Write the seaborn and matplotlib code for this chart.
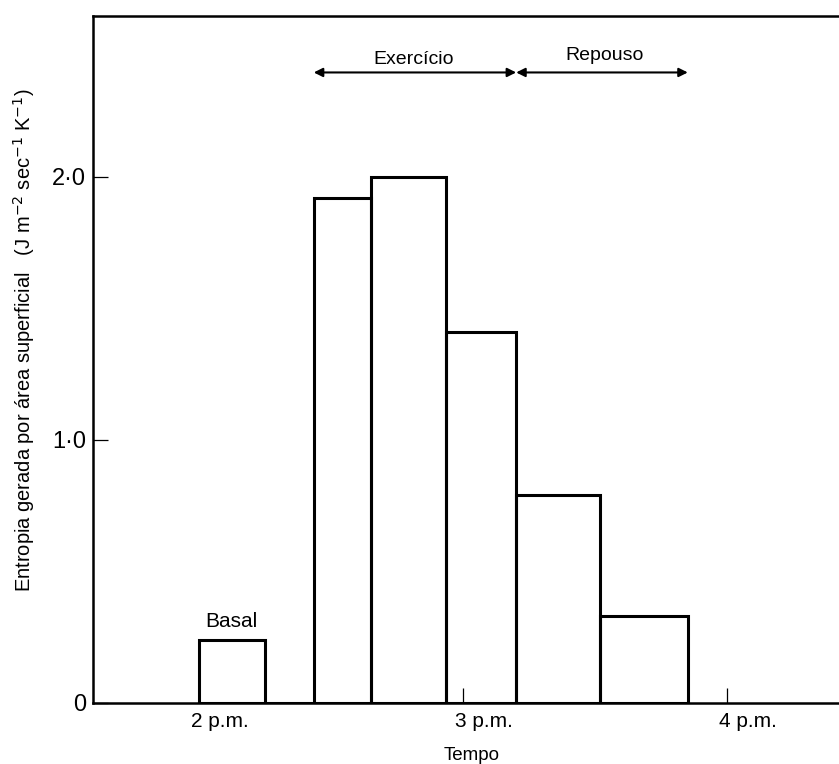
import numpy as np
import pandas as pd
import seaborn as sns
import matplotlib.pyplot as plt
from matplotlib.transforms import ScaledTranslation

# Intervals in minutes after 2 p.m. and entropy generated per surface area
start_min = [0, 26, 39, 56, 72, 91]
end_min = [15, 39, 56, 72, 91, 111]
entropy = [0.24, 1.92, 2.0, 1.41, 0.79, 0.33]

tick_min = [0, 60, 120]
tick_labels = ["2 p.m.", "3 p.m.", "4 p.m."]
ytick_vals = [0, 1, 2]
ytick_labels = ["0", "1·0", "2·0"]

phases = ["Exercício", "Repouso"]
phase_start = [26, 72]
phase_end = [72, 111]

sns.set_theme(style="white")
plt.rcParams["font.family"] = ["Liberation Sans", "DejaVu Sans"]
plt.rcParams["text.color"] = "black"
plt.rcParams["xtick.color"] = "black"
plt.rcParams["ytick.color"] = "black"

df = pd.DataFrame({
    "mid": [(a + b) / 2 for a, b in zip(start_min, end_min)],
    "value": entropy,
})
edges = sorted(set(start_min) | set(end_min))

fig = plt.figure(figsize=(8.39, 7.64), dpi=100)
ax = fig.add_axes([0.1112, 0.0802, 0.889, 0.8993])

sns.histplot(data=df, x="mid", weights="value", bins=edges, fill=False,
             element="bars", color="black", linewidth=2.2, ax=ax)

ax.set_xlim(-24.1, 145.4)
ax.set_ylim(0, 2.613)

for s in ["left", "top", "bottom"]:
    ax.spines[s].set_linewidth(1.8)
    ax.spines[s].set_color("black")
ax.spines["right"].set_visible(False)

ax.set_xticks(tick_min)
ax.set_xticklabels(tick_labels, fontsize=15, ha="left")
ax.set_yticks(ytick_vals)
ax.set_yticklabels(ytick_labels, fontsize=17)
ax.tick_params(axis="both", direction="in", length=11, width=0.9, color="black",
               bottom=True, left=True, top=False, right=False)
ax.tick_params(axis="x", pad=7)
ax.tick_params(axis="y", pad=5)
for lab in ax.get_xticklabels():
    lab.set_transform(lab.get_transform() + ScaledTranslation(-6 / 72, 0, fig.dpi_scale_trans))

ax.set_xlabel("")
ax.set_ylabel("")

# Basal label above the first bar
ax.text(7.2, 0.31, "Basal", ha="center", va="center", fontsize=15)

# Phase arrows
arrow_y = 2.397
for name, a, b in zip(phases, phase_start, phase_end):
    ax.annotate("", xy=(a, arrow_y), xytext=(b, arrow_y),
                arrowprops=dict(arrowstyle="<|-|>", color="black", lw=1.5,
                                mutation_scale=13, shrinkA=0, shrinkB=0))
ax.text(48.6, 2.448, phases[0], ha="center", va="center", fontsize=14)
ax.text(92.0, 2.462, phases[1], ha="center", va="center", fontsize=14)

fig.text(0.029, 0.555,
         "Entropia gerada por área superficial   (J m$^{-2}$ sec$^{-1}$ K$^{-1}$)",
         rotation=90, ha="center", va="center", fontsize=14.5)
fig.text(472 / 839, 1 - 756 / 764, "Tempo", ha="center", va="center", fontsize=13.5)

fig.savefig("out.png", dpi=100)
